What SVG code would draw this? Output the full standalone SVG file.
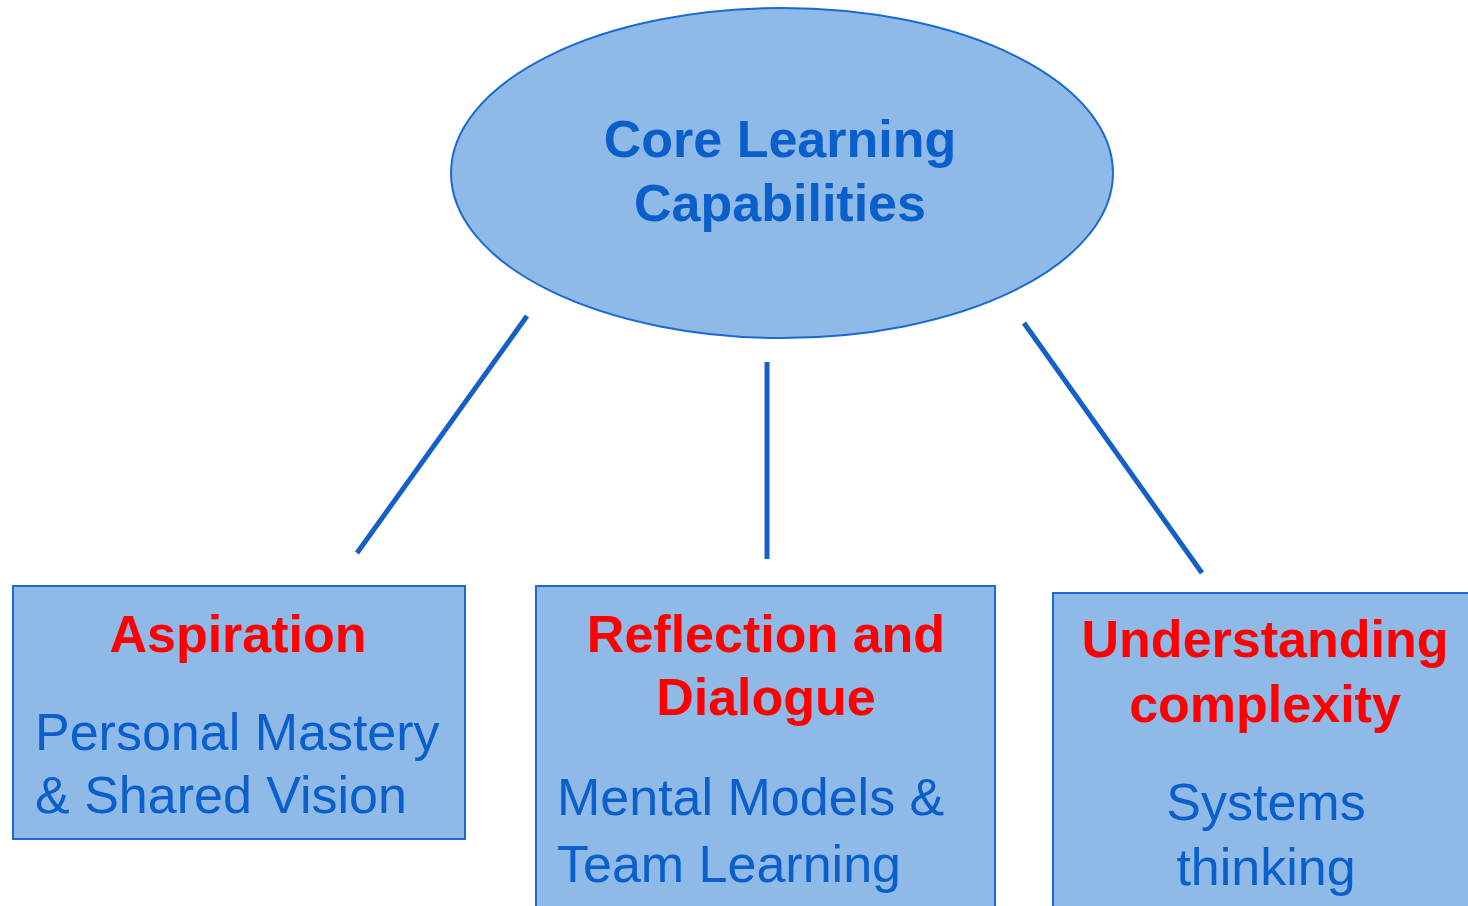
<svg xmlns="http://www.w3.org/2000/svg" width="1468" height="906" viewBox="0 0 1468 906">
<style>
.shape{fill:#8FBAE7;stroke:#1A6AD2;stroke-width:2}
.t{font-family:"Liberation Sans",Arial,sans-serif;font-size:52px}
.head{font-weight:bold;fill:#FF0000;text-anchor:middle}
.core{font-weight:bold;fill:#0A5FCB;text-anchor:middle}
.sub{fill:#0A5FCB}
.conn{stroke:#1560C8;stroke-width:5;fill:none}
</style>
<rect width="1468" height="906" fill="#FFFFFF"/>
<g id="connectors">
<line class="conn" x1="527" y1="316" x2="357" y2="553"/>
<line class="conn" x1="767" y1="362" x2="767" y2="559"/>
<line class="conn" x1="1024" y1="323" x2="1202" y2="573"/>
</g>
<g id="core">
<ellipse class="shape" cx="782" cy="173" rx="331" ry="165"/>
<text class="t core" x="780" y="157">Core Learning</text>
<text class="t core" x="780" y="221">Capabilities</text>
</g>
<g id="aspiration">
<rect class="shape" x="13" y="586" width="452" height="253"/>
<text class="t head" x="238" y="652">Aspiration</text>
<text class="t sub" x="35" y="750">Personal Mastery</text>
<text class="t sub" x="35" y="813">&amp; Shared Vision</text>
</g>
<g id="reflection">
<rect class="shape" x="536" y="586" width="459" height="330"/>
<text class="t head" x="766" y="652">Reflection and</text>
<text class="t head" x="766" y="715">Dialogue</text>
<text class="t sub" x="557" y="815">Mental Models &amp;</text>
<text class="t sub" x="557" y="882">Team Learning</text>
</g>
<g id="complexity">
<rect class="shape" x="1053" y="593" width="430" height="330"/>
<text class="t head" x="1265" y="657">Understanding</text>
<text class="t head" x="1265" y="722">complexity</text>
<text class="t sub" x="1266" y="820" text-anchor="middle">Systems</text>
<text class="t sub" x="1266" y="885" text-anchor="middle">thinking</text>
</g>
</svg>
